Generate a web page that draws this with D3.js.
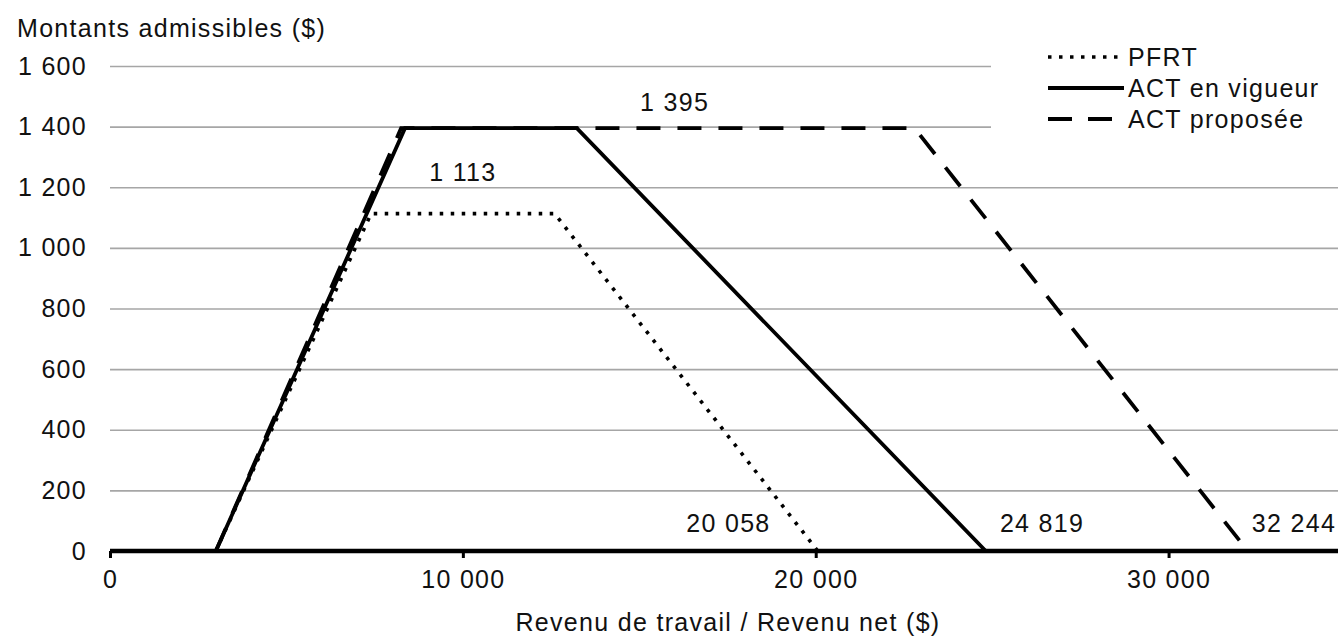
<!DOCTYPE html>
<html>
<head>
<meta charset="utf-8">
<script src="https://cdn.jsdelivr.net/npm/d3@7"></script>
<style>
  body { margin: 0; background: #fff; }
  svg { display: block; font-family: "Liberation Sans", Arial, sans-serif; }
  svg text { letter-spacing: 1.3px; }
</style>
</head>
<body>
<div id="chart"></div>
<script>
// data
var xTicks = [0, 10000, 20000, 30000];
var yTicks = [0, 200, 400, 600, 800, 1000, 1200, 1400, 1600];

var pfrt = [[3000, 0], [7400, 1113], [12600, 1113], [20058, 0]];
var actEnVigueur = [[3000, 0], [8360, 1395], [13230, 1395], [24819, 0]];
var actProposee = [[3000, 0], [8250, 1395], [22800, 1395], [32244, 0]];

var seriesNames = ["PFRT", "ACT en vigueur", "ACT proposée"];

// annotations: [x, y, text, anchor]
var plateauLabels = [[10000, 1250, "1 113", "middle"], [16000, 1480, "1 395", "middle"]];
var endLabels = [[18720, 92, "20 058", "end"], [25220, 92, "24 819", "start"], [32360, 92, "32 244", "start"]];

var W = 1338, H = 639;
var svg = d3.select("#chart").append("svg")
    .attr("width", W)
    .attr("height", H);

var x = d3.scaleLinear().domain([0, 35000]).range([110, 1345]);
var y = d3.scaleLinear().domain([0, 1600]).range([551, 66]);

var loc = d3.formatLocale({decimal: ",", thousands: " ", grouping: [3], currency: ["", " $"]});
var fmt = loc.format(",");

var fs = 25;

// grid + y labels
var yAxis = svg.append("g")
    .attr("transform", "translate(110,0)")
    .call(d3.axisLeft(y).tickValues(yTicks).tickFormat(fmt).tickSize(-(W - 110)).tickPadding(23));
yAxis.select(".domain").remove();
yAxis.selectAll(".tick line").attr("stroke", "#a6a6a6").attr("stroke-width", 1.6);
yAxis.selectAll(".tick text").attr("font-size", fs).attr("fill", "#111").attr("font-family", "Liberation Sans, Arial, sans-serif");

// x axis
var xAxis = svg.append("g")
    .attr("transform", "translate(0," + y(0) + ")")
    .call(d3.axisBottom(x).tickValues(xTicks).tickFormat(fmt).tickSize(7).tickPadding(12).tickSizeOuter(0));
xAxis.select(".domain").attr("stroke", "#000").attr("stroke-width", 4.5).attr("d", "M" + x(0) + ",0H" + W);
xAxis.selectAll(".tick line").attr("stroke", "#000").attr("stroke-width", 3);
xAxis.selectAll(".tick text").attr("font-size", fs).attr("fill", "#111").attr("font-family", "Liberation Sans, Arial, sans-serif");

// lines
var line = d3.line().x(function(d) { return x(d[0]); }).y(function(d) { return y(d[1]); });

var styles = [
  {data: pfrt, dash: "3.5,7.5", width: 3.6},
  {data: actEnVigueur, dash: null, width: 3.8},
  {data: actProposee, dash: "24,17", width: 3.8}
];

styles.forEach(function(s) {
  svg.append("path")
      .datum(s.data)
      .attr("d", line)
      .attr("fill", "none")
      .attr("stroke", "#000")
      .attr("stroke-width", s.width)
      .attr("stroke-dasharray", s.dash);
});

// annotations
svg.selectAll(".dlabel")
    .data(plateauLabels.concat(endLabels))
  .enter().append("text")
    .attr("x", function(d) { return x(d[0]); })
    .attr("y", function(d) { return y(d[1]); })
    .attr("dy", "0.35em")
    .attr("text-anchor", function(d) { return d[3]; })
    .attr("font-size", fs)
    .attr("fill", "#111")
    .text(function(d) { return d[2]; });

// axis titles
svg.append("text")
    .attr("x", 17)
    .attr("y", 28)
    .attr("dy", "0.35em")
    .attr("font-size", fs)
    .attr("fill", "#111")
    .text("Montants admissibles ($)");

svg.append("text")
    .attr("x", 728)
    .attr("y", 622)
    .attr("dy", "0.35em")
    .attr("text-anchor", "middle")
    .attr("font-size", fs)
    .attr("fill", "#111")
    .text("Revenu de travail / Revenu net ($)");

// legend
var legend = svg.append("g");
legend.append("rect")
    .attr("x", 991).attr("y", 40)
    .attr("width", W - 991).attr("height", 98)
    .attr("fill", "#fff");

var legendRows = legend.selectAll(".row")
    .data(seriesNames)
  .enter().append("g")
    .attr("transform", function(d, i) { return "translate(0," + (57 + i * 31) + ")"; });

legendRows.append("line")
    .attr("x1", 1048)
    .attr("x2", function(d, i) { return i === 2 ? 1112 : 1124; })
    .attr("stroke", "#000")
    .attr("stroke-width", function(d, i) { return styles[i].width; })
    .attr("stroke-dasharray", function(d, i) { return i === 2 ? "24,16" : styles[i].dash; });

legendRows.append("text")
    .attr("x", 1128)
    .attr("dy", "0.35em")
    .attr("font-size", fs)
    .attr("fill", "#111")
    .text(function(d) { return d; });
</script>
</body>
</html>
